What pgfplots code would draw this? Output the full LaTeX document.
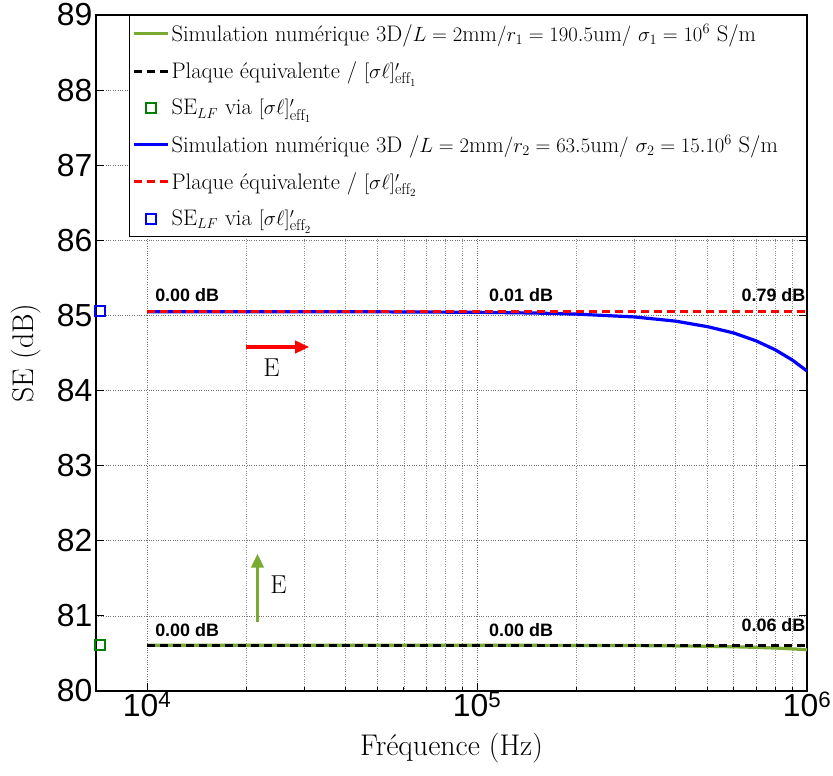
\documentclass[border=0pt]{standalone}
\usepackage{pgfplots}
\pgfplotsset{compat=1.18}
\usepackage{fontspec}
\newfontfamily\helv{Liberation Sans}
\usetikzlibrary{arrows.meta}
\definecolor{mgreen}{rgb}{0.47,0.67,0.19}
\definecolor{dgreen}{rgb}{0,0.5,0}
\pgfplotsset{
  longline/.style={legend image code/.code={\draw[##1, line width=3bp] plot coordinates {(0cm,0cm) (34bp,0cm)};}},
  centermark/.style={legend image code/.code={\draw[##1] plot coordinates {(17bp,0cm)};}},
}
\begin{document}
\begin{tikzpicture}
\begin{axis}[
  scale only axis, width=711bp, height=676bp,
  xmode=log, xmin=7000, xmax=1e6, ymin=80, ymax=89,
  xtick={1e4,1e5,1e6},
  xticklabels={10\textsuperscript{4},10\textsuperscript{5},10\textsuperscript{6}},
  ytick={80,81,82,83,84,85,86,87,88,89},
  yticklabels={80,81,82,83,84,85,86,87,88,89},
  tick label style={font=\fontsize{32}{32}\helv},
  yticklabel style={inner sep=3.5bp},
  xticklabel style={inner sep=1bp},
  grid=both,
  major grid style={dotted, black!55, line width=0.7bp},
  minor grid style={dotted, black!45, line width=0.7bp},
  minor y tick num=0,
  tick align=inside, major tick length=8bp, minor tick length=4bp,
  axis line style={line width=1.3bp},
  every tick/.style={black, line width=0.8bp},
  xlabel={Fréquence (Hz)}, ylabel={SE (dB)},
  every axis y label/.style={at={(axis description cs:-0.0985,0.5)}, rotate=90, anchor=center, font=\fontsize{30}{30}\selectfont},
  every axis x label/.style={at={(axis description cs:0.5,-0.0843)}, anchor=center, font=\fontsize{30}{30}\selectfont},
  legend cell align=left,
  legend style={at={(1,1)}, anchor=north east, font=\fontsize{22.6}{25}\selectfont,
    draw=black, line width=1bp, row sep=15bp, inner xsep=3bp, inner ysep=7bp},
  longline,
]
\coordinate (ll) at (rel axis cs:0,0);
\addplot[color=mgreen, line width=3.2bp] coordinates {
(1e4,80.61) (5e4,80.61) (1e5,80.609) (2e5,80.607) (3e5,80.605) (4e5,80.600)
(5e5,80.595) (6e5,80.589) (7e5,80.581) (8e5,80.572) (9e5,80.561) (1e6,80.55)};
\addlegendentry{Simulation numérique 3D/$L=2\mathrm{mm}/r_1=190.5\mathrm{um}/\ \sigma_1=10^6$ S/m}
\addplot[color=black, line width=3.2bp, dash pattern=on 8bp off 5bp] coordinates {(1e4,80.61) (1e6,80.61)};
\addlegendentry{Plaque équivalente / $[\sigma\ell]'_{\mathrm{eff}_1}$}
\addplot[only marks, mark=square, mark size=5bp, mark options={draw=dgreen, line width=1.8bp}, centermark] coordinates {(7200,80.61)};
\addlegendentry{$\mathrm{SE}_{LF}$ via $[\sigma\ell]'_{\mathrm{eff}_1}$}
\addplot[color=blue, line width=3.2bp] coordinates {
(1e4,85.05) (2e4,85.05) (5e4,85.048) (1e5,85.042) (1.5e5,85.032) (2e5,85.018)
(3e5,84.98) (4e5,84.924) (5e5,84.85) (6e5,84.766) (7e5,84.663) (8e5,84.544)
(9e5,84.41) (1e6,84.26)};
\addlegendentry{\makebox[630bp][l]{Simulation numérique 3D /$L=2\mathrm{mm}/r_2=63.5\mathrm{um}/\ \sigma_2=15.10^6$ S/m}}
\addplot[color=red, line width=3.2bp, dash pattern=on 8bp off 5bp] coordinates {(1e4,85.05) (1e6,85.05)};
\addlegendentry{Plaque équivalente / $[\sigma\ell]'_{\mathrm{eff}_2}$}
\addplot[only marks, mark=square, mark size=5bp, mark options={draw=blue, line width=1.8bp}, centermark] coordinates {(7200,85.06)};
\addlegendentry{$\mathrm{SE}_{LF}$ via $[\sigma\ell]'_{\mathrm{eff}_2}$}
% arrows
\addplot[forget plot, color=red, line width=3.8bp, -{Triangle[length=14bp,width=12bp]}] coordinates {(2.0e4,84.58) (3.1e4,84.58)};
\addplot[forget plot, color=mgreen, line width=3.8bp, -{Triangle[length=14bp,width=12bp]}] coordinates {(2.16e4,80.92) (2.16e4,81.83)};
\node[font=\fontsize{26}{26}\selectfont] at (axis cs:2.38e4,84.30) {E};
\node[font=\fontsize{26}{26}\selectfont] at (axis cs:2.5e4,81.41) {E};
% dB annotations
\node[anchor=south west, inner sep=0pt, font=\fontsize{18}{18}\helv\bfseries] at (axis cs:1.057e4,85.18) {0.00 dB};
\node[anchor=south west, inner sep=0pt, font=\fontsize{18}{18}\helv\bfseries] at (axis cs:1.087e5,85.18) {0.01 dB};
\node[anchor=south east, inner sep=0pt, font=\fontsize{18}{18}\helv\bfseries] at (axis cs:9.9e5,85.18) {0.79 dB};
\node[anchor=south west, inner sep=0pt, font=\fontsize{18}{18}\helv\bfseries] at (axis cs:1.057e4,80.72) {0.00 dB};
\node[anchor=south west, inner sep=0pt, font=\fontsize{18}{18}\helv\bfseries] at (axis cs:1.087e5,80.72) {0.00 dB};
\node[anchor=south east, inner sep=0pt, font=\fontsize{18}{18}\helv\bfseries] at (axis cs:9.9e5,80.79) {0.06 dB};
\end{axis}
\pgfresetboundingbox
\path (ll) ++(-96bp,-85bp) rectangle ++(833bp,776bp);
\end{tikzpicture}
\end{document}
